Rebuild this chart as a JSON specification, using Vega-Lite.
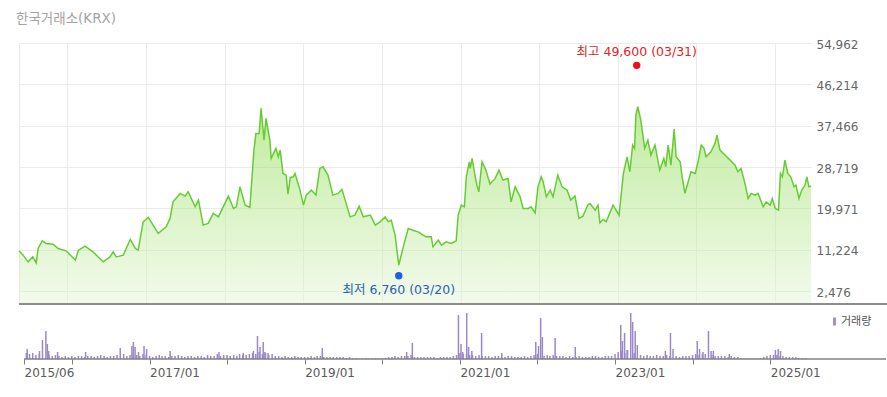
{
  "$schema": "https://vega.github.io/schema/vega-lite/v6.json",
  "background": "white",
  "padding": {"left": 16, "top": 11, "right": 0, "bottom": 0},
  "title": {"text": "한국거래소(KRX)", "anchor": "start", "fontSize": 13.5, "font": "DejaVu Sans, Noto Sans CJK KR", "fontWeight": "normal", "color": "#a3a3a3", "offset": 13},
  "config": {"view": {"stroke": null}, "font": "DejaVu Sans, Noto Sans CJK KR"},
  "spacing": 4,
  "resolve": {"scale": {"color": "independent"}, "legend": {"color": "independent"}},
  "datasets": {
    "price": [
      {"d": "2015-05-21", "v": 11000}, {"d": "2015-06-09", "v": 10060}, {"d": "2015-07-02", "v": 8640}, {"d": "2015-07-24", "v": 9700},
      {"d": "2015-08-09", "v": 8430}, {"d": "2015-08-18", "v": 11480}, {"d": "2015-09-06", "v": 13090}, {"d": "2015-09-24", "v": 12540},
      {"d": "2015-10-26", "v": 12390}, {"d": "2015-11-19", "v": 11480}, {"d": "2015-12-26", "v": 10970}, {"d": "2016-02-07", "v": 9000},
      {"d": "2016-02-21", "v": 11120}, {"d": "2016-03-23", "v": 11970}, {"d": "2016-04-29", "v": 10760}, {"d": "2016-06-15", "v": 8640},
      {"d": "2016-07-17", "v": 9700}, {"d": "2016-08-01", "v": 10760}, {"d": "2016-08-15", "v": 9700}, {"d": "2016-09-17", "v": 10060},
      {"d": "2016-10-19", "v": 13390}, {"d": "2016-11-12", "v": 11480}, {"d": "2016-11-25", "v": 11120}, {"d": "2016-12-18", "v": 17120},
      {"d": "2017-01-11", "v": 18050}, {"d": "2017-02-26", "v": 14660}, {"d": "2017-04-04", "v": 16060}, {"d": "2017-04-22", "v": 17840},
      {"d": "2017-05-06", "v": 21350}, {"d": "2017-06-08", "v": 23130}, {"d": "2017-07-01", "v": 22560}, {"d": "2017-07-15", "v": 23470},
      {"d": "2017-08-17", "v": 20290}, {"d": "2017-09-01", "v": 21710}, {"d": "2017-09-23", "v": 16420}, {"d": "2017-10-16", "v": 16780},
      {"d": "2017-11-09", "v": 18890}, {"d": "2017-12-03", "v": 18170}, {"d": "2017-12-25", "v": 20290}, {"d": "2018-01-18", "v": 22560},
      {"d": "2018-02-11", "v": 19950}, {"d": "2018-02-24", "v": 20290}, {"d": "2018-03-13", "v": 24530}, {"d": "2018-04-06", "v": 20650},
      {"d": "2018-04-28", "v": 20160}, {"d": "2018-05-17", "v": 32300}, {"d": "2018-05-26", "v": 35830}, {"d": "2018-06-10", "v": 35830},
      {"d": "2018-06-19", "v": 41130}, {"d": "2018-07-03", "v": 34420}, {"d": "2018-07-12", "v": 39010}, {"d": "2018-07-30", "v": 34420},
      {"d": "2018-08-05", "v": 30540}, {"d": "2018-08-27", "v": 32660}, {"d": "2018-09-07", "v": 30880}, {"d": "2018-09-16", "v": 32300},
      {"d": "2018-09-29", "v": 27360}, {"d": "2018-10-14", "v": 27000}, {"d": "2018-10-22", "v": 22980}, {"d": "2018-11-02", "v": 26500},
      {"d": "2018-11-16", "v": 26650}, {"d": "2018-11-24", "v": 27360}, {"d": "2018-12-17", "v": 23830}, {"d": "2019-01-02", "v": 20650},
      {"d": "2019-01-15", "v": 22770}, {"d": "2019-02-08", "v": 23830}, {"d": "2019-03-01", "v": 22770}, {"d": "2019-03-19", "v": 28420},
      {"d": "2019-04-03", "v": 28770}, {"d": "2019-04-26", "v": 27000}, {"d": "2019-05-19", "v": 22770}, {"d": "2019-06-12", "v": 23130},
      {"d": "2019-06-30", "v": 23980}, {"d": "2019-08-07", "v": 18170}, {"d": "2019-08-29", "v": 18530}, {"d": "2019-09-18", "v": 20440},
      {"d": "2019-10-07", "v": 18170}, {"d": "2019-11-09", "v": 18530}, {"d": "2019-12-02", "v": 16420}, {"d": "2019-12-24", "v": 17120},
      {"d": "2020-01-17", "v": 18170}, {"d": "2020-02-01", "v": 17120}, {"d": "2020-02-14", "v": 17470}, {"d": "2020-03-03", "v": 14300},
      {"d": "2020-03-20", "v": 7940}, {"d": "2020-04-10", "v": 11820}, {"d": "2020-05-03", "v": 15710}, {"d": "2020-05-25", "v": 15350},
      {"d": "2020-06-18", "v": 14990}, {"d": "2020-07-11", "v": 14300}, {"d": "2020-07-24", "v": 13940}, {"d": "2020-08-18", "v": 13940},
      {"d": "2020-08-26", "v": 11820}, {"d": "2020-09-20", "v": 13240}, {"d": "2020-10-04", "v": 12180}, {"d": "2020-10-26", "v": 12880},
      {"d": "2020-11-19", "v": 12540}, {"d": "2020-12-12", "v": 13090}, {"d": "2020-12-21", "v": 18530}, {"d": "2021-01-05", "v": 20650},
      {"d": "2021-01-19", "v": 20290}, {"d": "2021-01-28", "v": 26650}, {"d": "2021-02-11", "v": 29820}, {"d": "2021-02-15", "v": 28420},
      {"d": "2021-02-24", "v": 30540}, {"d": "2021-03-09", "v": 27000}, {"d": "2021-03-18", "v": 24890}, {"d": "2021-03-27", "v": 23470},
      {"d": "2021-04-11", "v": 29820}, {"d": "2021-04-29", "v": 28060}, {"d": "2021-05-18", "v": 25100}, {"d": "2021-06-11", "v": 26300},
      {"d": "2021-06-29", "v": 28060}, {"d": "2021-07-17", "v": 25950}, {"d": "2021-08-10", "v": 26300}, {"d": "2021-08-24", "v": 21350},
      {"d": "2021-09-12", "v": 24530}, {"d": "2021-10-05", "v": 22410}, {"d": "2021-10-19", "v": 19950}, {"d": "2021-11-12", "v": 19950},
      {"d": "2021-11-25", "v": 20290}, {"d": "2021-12-14", "v": 19020}, {"d": "2021-12-27", "v": 24530}, {"d": "2022-01-11", "v": 26650},
      {"d": "2022-01-20", "v": 25590}, {"d": "2022-02-04", "v": 22410}, {"d": "2022-02-22", "v": 23830}, {"d": "2022-03-07", "v": 22410},
      {"d": "2022-03-29", "v": 27000}, {"d": "2022-04-18", "v": 24530}, {"d": "2022-05-11", "v": 23830}, {"d": "2022-05-28", "v": 21710},
      {"d": "2022-06-17", "v": 22560}, {"d": "2022-07-06", "v": 17840}, {"d": "2022-07-24", "v": 18300}, {"d": "2022-08-15", "v": 20650},
      {"d": "2022-08-26", "v": 21010}, {"d": "2022-09-19", "v": 19590}, {"d": "2022-10-02", "v": 20650}, {"d": "2022-10-11", "v": 16900},
      {"d": "2022-10-26", "v": 17620}, {"d": "2022-11-09", "v": 17120}, {"d": "2022-12-11", "v": 20650}, {"d": "2023-01-08", "v": 18530},
      {"d": "2023-01-28", "v": 27360}, {"d": "2023-02-14", "v": 30880}, {"d": "2023-02-27", "v": 27710}, {"d": "2023-03-12", "v": 33360},
      {"d": "2023-03-21", "v": 32660}, {"d": "2023-03-27", "v": 39710}, {"d": "2023-04-05", "v": 41470}, {"d": "2023-04-19", "v": 38650},
      {"d": "2023-05-07", "v": 32660}, {"d": "2023-05-22", "v": 34420}, {"d": "2023-06-05", "v": 31240}, {"d": "2023-06-24", "v": 33360},
      {"d": "2023-07-16", "v": 28060}, {"d": "2023-08-04", "v": 30540}, {"d": "2023-08-13", "v": 28770}, {"d": "2023-08-24", "v": 33360},
      {"d": "2023-09-06", "v": 29120}, {"d": "2023-09-21", "v": 36750}, {"d": "2023-09-30", "v": 30880}, {"d": "2023-10-19", "v": 29820},
      {"d": "2023-10-28", "v": 26650}, {"d": "2023-11-10", "v": 23130}, {"d": "2023-11-25", "v": 25590}, {"d": "2023-12-08", "v": 27710},
      {"d": "2023-12-28", "v": 27360}, {"d": "2024-01-10", "v": 29820}, {"d": "2024-01-25", "v": 33360}, {"d": "2024-02-07", "v": 32660},
      {"d": "2024-02-16", "v": 30880}, {"d": "2024-03-10", "v": 31940}, {"d": "2024-03-29", "v": 33720}, {"d": "2024-04-07", "v": 35480},
      {"d": "2024-04-21", "v": 32300}, {"d": "2024-05-14", "v": 31240}, {"d": "2024-06-07", "v": 30180}, {"d": "2024-06-30", "v": 29120},
      {"d": "2024-07-13", "v": 27710}, {"d": "2024-07-28", "v": 28420}, {"d": "2024-08-15", "v": 25240}, {"d": "2024-08-30", "v": 22070},
      {"d": "2024-09-13", "v": 23130}, {"d": "2024-10-01", "v": 22770}, {"d": "2024-10-15", "v": 23130}, {"d": "2024-11-08", "v": 20290},
      {"d": "2024-11-22", "v": 21350}, {"d": "2024-12-10", "v": 20650}, {"d": "2024-12-20", "v": 22070}, {"d": "2025-01-03", "v": 19950},
      {"d": "2025-01-18", "v": 19590}, {"d": "2025-01-27", "v": 27360}, {"d": "2025-02-05", "v": 26650}, {"d": "2025-02-17", "v": 30180},
      {"d": "2025-03-02", "v": 27360}, {"d": "2025-03-16", "v": 26650}, {"d": "2025-03-31", "v": 24530}, {"d": "2025-04-09", "v": 24890},
      {"d": "2025-04-23", "v": 22070}, {"d": "2025-05-06", "v": 23830}, {"d": "2025-05-21", "v": 24890}, {"d": "2025-05-30", "v": 26650},
      {"d": "2025-06-08", "v": 24530}, {"d": "2025-06-18", "v": 24700}
    ],
    "vol": [
      {"d": "2015-06-01", "v": 6}, {"d": "2015-06-16", "v": 5}, {"d": "2015-07-01", "v": 6}, {"d": "2015-07-16", "v": 4}, {"d": "2015-08-01", "v": 5}, {"d": "2015-08-16", "v": 6}, {"d": "2015-09-01", "v": 5}, {"d": "2015-09-16", "v": 4}, {"d": "2015-10-01", "v": 3}, {"d": "2015-10-16", "v": 4}, {"d": "2015-11-01", "v": 3}, {"d": "2015-11-16", "v": 2}, {"d": "2015-12-01", "v": 3}, {"d": "2015-12-16", "v": 2},
      {"d": "2016-01-01", "v": 3}, {"d": "2016-01-16", "v": 2}, {"d": "2016-02-01", "v": 3}, {"d": "2016-02-16", "v": 3}, {"d": "2016-03-01", "v": 2}, {"d": "2016-03-16", "v": 3}, {"d": "2016-04-01", "v": 3}, {"d": "2016-04-16", "v": 2}, {"d": "2016-05-01", "v": 3}, {"d": "2016-05-16", "v": 4}, {"d": "2016-06-01", "v": 3}, {"d": "2016-06-16", "v": 2}, {"d": "2016-07-01", "v": 3}, {"d": "2016-07-16", "v": 3}, {"d": "2016-08-01", "v": 4}, {"d": "2016-08-16", "v": 3}, {"d": "2016-09-01", "v": 5}, {"d": "2016-09-16", "v": 3}, {"d": "2016-10-01", "v": 4}, {"d": "2016-10-16", "v": 5}, {"d": "2016-11-01", "v": 4}, {"d": "2016-11-16", "v": 3}, {"d": "2016-12-01", "v": 5}, {"d": "2016-12-16", "v": 4},
      {"d": "2017-01-01", "v": 3}, {"d": "2017-01-16", "v": 2}, {"d": "2017-02-01", "v": 3}, {"d": "2017-02-16", "v": 4}, {"d": "2017-03-01", "v": 3}, {"d": "2017-03-16", "v": 3}, {"d": "2017-04-01", "v": 2}, {"d": "2017-04-16", "v": 3}, {"d": "2017-05-01", "v": 3}, {"d": "2017-05-16", "v": 4}, {"d": "2017-06-01", "v": 3}, {"d": "2017-06-16", "v": 2}, {"d": "2017-07-01", "v": 3}, {"d": "2017-07-16", "v": 3}, {"d": "2017-08-01", "v": 2}, {"d": "2017-08-16", "v": 3}, {"d": "2017-09-01", "v": 3}, {"d": "2017-09-16", "v": 2}, {"d": "2017-10-01", "v": 4}, {"d": "2017-10-16", "v": 3}, {"d": "2017-11-01", "v": 3}, {"d": "2017-11-16", "v": 5}, {"d": "2017-12-01", "v": 3}, {"d": "2017-12-16", "v": 4},
      {"d": "2018-01-01", "v": 4}, {"d": "2018-01-16", "v": 3}, {"d": "2018-02-01", "v": 4}, {"d": "2018-02-16", "v": 3}, {"d": "2018-03-01", "v": 5}, {"d": "2018-03-16", "v": 4}, {"d": "2018-04-01", "v": 4}, {"d": "2018-04-16", "v": 5}, {"d": "2018-05-01", "v": 6}, {"d": "2018-05-16", "v": 5}, {"d": "2018-06-01", "v": 7}, {"d": "2018-06-16", "v": 5}, {"d": "2018-07-01", "v": 6}, {"d": "2018-07-16", "v": 4}, {"d": "2018-08-01", "v": 5}, {"d": "2018-08-16", "v": 3}, {"d": "2018-09-01", "v": 3}, {"d": "2018-09-16", "v": 2}, {"d": "2018-10-01", "v": 3}, {"d": "2018-10-16", "v": 2}, {"d": "2018-11-01", "v": 2}, {"d": "2018-11-16", "v": 3}, {"d": "2018-12-01", "v": 2}, {"d": "2018-12-16", "v": 2},
      {"d": "2019-01-01", "v": 2}, {"d": "2019-01-16", "v": 2}, {"d": "2019-02-01", "v": 3}, {"d": "2019-02-16", "v": 2}, {"d": "2019-03-01", "v": 3}, {"d": "2019-03-16", "v": 3}, {"d": "2019-04-01", "v": 2}, {"d": "2019-04-16", "v": 2}, {"d": "2019-05-01", "v": 2}, {"d": "2019-05-16", "v": 2}, {"d": "2019-06-01", "v": 2}, {"d": "2019-06-16", "v": 2}, {"d": "2019-07-01", "v": 2}, {"d": "2019-07-16", "v": 1}, {"d": "2019-08-01", "v": 2}, {"d": "2019-08-16", "v": 1}, {"d": "2019-09-01", "v": 1}, {"d": "2019-09-16", "v": 0.5}, {"d": "2019-10-01", "v": 0.5}, {"d": "2019-10-16", "v": 1}, {"d": "2019-11-01", "v": 0.5}, {"d": "2019-11-16", "v": 0.5}, {"d": "2019-12-01", "v": 1}, {"d": "2019-12-16", "v": 0.5},
      {"d": "2020-01-01", "v": 0.5}, {"d": "2020-01-16", "v": 1}, {"d": "2020-02-01", "v": 2}, {"d": "2020-02-16", "v": 2}, {"d": "2020-03-01", "v": 3}, {"d": "2020-03-16", "v": 2}, {"d": "2020-04-01", "v": 3}, {"d": "2020-04-16", "v": 3}, {"d": "2020-05-01", "v": 3}, {"d": "2020-05-16", "v": 4}, {"d": "2020-06-01", "v": 2}, {"d": "2020-06-16", "v": 2}, {"d": "2020-07-01", "v": 2}, {"d": "2020-07-16", "v": 2}, {"d": "2020-08-01", "v": 2}, {"d": "2020-08-16", "v": 2}, {"d": "2020-09-01", "v": 2}, {"d": "2020-09-16", "v": 1}, {"d": "2020-10-01", "v": 2}, {"d": "2020-10-16", "v": 2}, {"d": "2020-11-01", "v": 2}, {"d": "2020-11-16", "v": 2}, {"d": "2020-12-01", "v": 3}, {"d": "2020-12-16", "v": 4},
      {"d": "2021-01-01", "v": 6}, {"d": "2021-01-16", "v": 5}, {"d": "2021-02-01", "v": 5}, {"d": "2021-02-16", "v": 4}, {"d": "2021-03-01", "v": 4}, {"d": "2021-03-16", "v": 3}, {"d": "2021-04-01", "v": 4}, {"d": "2021-04-16", "v": 3}, {"d": "2021-05-01", "v": 3}, {"d": "2021-05-16", "v": 3}, {"d": "2021-06-01", "v": 2}, {"d": "2021-06-16", "v": 3}, {"d": "2021-07-01", "v": 3}, {"d": "2021-07-16", "v": 2}, {"d": "2021-08-01", "v": 2}, {"d": "2021-08-16", "v": 3}, {"d": "2021-09-01", "v": 3}, {"d": "2021-09-16", "v": 2}, {"d": "2021-10-01", "v": 2}, {"d": "2021-10-16", "v": 2}, {"d": "2021-11-01", "v": 3}, {"d": "2021-11-16", "v": 2}, {"d": "2021-12-01", "v": 3}, {"d": "2021-12-16", "v": 4},
      {"d": "2022-01-01", "v": 5}, {"d": "2022-01-16", "v": 4}, {"d": "2022-02-01", "v": 3}, {"d": "2022-02-16", "v": 4}, {"d": "2022-03-01", "v": 3}, {"d": "2022-03-16", "v": 4}, {"d": "2022-04-01", "v": 3}, {"d": "2022-04-16", "v": 3}, {"d": "2022-05-01", "v": 3}, {"d": "2022-05-16", "v": 2}, {"d": "2022-06-01", "v": 3}, {"d": "2022-06-16", "v": 2}, {"d": "2022-07-01", "v": 2}, {"d": "2022-07-16", "v": 3}, {"d": "2022-08-01", "v": 2}, {"d": "2022-08-16", "v": 2}, {"d": "2022-09-01", "v": 2}, {"d": "2022-09-16", "v": 3}, {"d": "2022-10-01", "v": 3}, {"d": "2022-10-16", "v": 2}, {"d": "2022-11-01", "v": 2}, {"d": "2022-11-16", "v": 3}, {"d": "2022-12-01", "v": 3}, {"d": "2022-12-16", "v": 3},
      {"d": "2023-01-01", "v": 5}, {"d": "2023-01-16", "v": 7}, {"d": "2023-02-01", "v": 8}, {"d": "2023-02-16", "v": 6}, {"d": "2023-03-01", "v": 9}, {"d": "2023-03-16", "v": 7}, {"d": "2023-04-01", "v": 6}, {"d": "2023-04-16", "v": 4}, {"d": "2023-05-01", "v": 4}, {"d": "2023-05-16", "v": 3}, {"d": "2023-06-01", "v": 4}, {"d": "2023-06-16", "v": 3}, {"d": "2023-07-01", "v": 3}, {"d": "2023-07-16", "v": 4}, {"d": "2023-08-01", "v": 3}, {"d": "2023-08-16", "v": 3}, {"d": "2023-09-01", "v": 4}, {"d": "2023-09-16", "v": 3}, {"d": "2023-10-01", "v": 3}, {"d": "2023-10-16", "v": 3}, {"d": "2023-11-01", "v": 2}, {"d": "2023-11-16", "v": 3}, {"d": "2023-12-01", "v": 3}, {"d": "2023-12-16", "v": 3},
      {"d": "2024-01-01", "v": 4}, {"d": "2024-01-16", "v": 5}, {"d": "2024-02-01", "v": 4}, {"d": "2024-02-16", "v": 5}, {"d": "2024-03-01", "v": 5}, {"d": "2024-03-16", "v": 4}, {"d": "2024-04-01", "v": 4}, {"d": "2024-04-16", "v": 3}, {"d": "2024-05-01", "v": 3}, {"d": "2024-05-16", "v": 3}, {"d": "2024-06-01", "v": 3}, {"d": "2024-06-16", "v": 2}, {"d": "2024-07-01", "v": 3}, {"d": "2024-07-16", "v": 2}, {"d": "2024-08-01", "v": 2}, {"d": "2024-08-16", "v": 1}, {"d": "2024-09-01", "v": 0.5}, {"d": "2024-09-16", "v": 0.5}, {"d": "2024-10-01", "v": 0.5}, {"d": "2024-10-16", "v": 0.5}, {"d": "2024-11-01", "v": 0.5}, {"d": "2024-11-16", "v": 1}, {"d": "2024-12-01", "v": 2}, {"d": "2024-12-16", "v": 3},
      {"d": "2025-01-01", "v": 4}, {"d": "2025-01-16", "v": 4}, {"d": "2025-02-01", "v": 4}, {"d": "2025-02-16", "v": 3}, {"d": "2025-03-01", "v": 3}, {"d": "2025-03-16", "v": 2}, {"d": "2025-04-01", "v": 2}, {"d": "2025-04-16", "v": 2}, {"d": "2025-05-01", "v": 2}, {"d": "2025-05-16", "v": 1}, {"d": "2025-06-01", "v": 1}, {"d": "2025-06-16", "v": 1},
      {"d": "2015-06-05", "v": 10}, {"d": "2015-08-02", "v": 8}, {"d": "2015-08-16", "v": 13}, {"d": "2015-09-01", "v": 23}, {"d": "2015-09-08", "v": 15}, {"d": "2015-09-14", "v": 8}, {"d": "2015-10-26", "v": 7}, {"d": "2016-03-06", "v": 7}, {"d": "2016-08-16", "v": 8}, {"d": "2016-10-10", "v": 13}, {"d": "2016-10-17", "v": 17}, {"d": "2016-10-25", "v": 12}, {"d": "2016-11-10", "v": 7}, {"d": "2016-12-06", "v": 13}, {"d": "2016-12-18", "v": 10}, {"d": "2017-04-08", "v": 8}, {"d": "2017-11-24", "v": 7}, {"d": "2018-03-18", "v": 6}, {"d": "2018-05-05", "v": 8}, {"d": "2018-05-24", "v": 23}, {"d": "2018-06-05", "v": 12}, {"d": "2018-06-20", "v": 17}, {"d": "2018-06-28", "v": 7}, {"d": "2018-07-13", "v": 6}, {"d": "2019-03-25", "v": 11}, {"d": "2020-04-25", "v": 7}, {"d": "2020-05-22", "v": 16}, {"d": "2020-12-25", "v": 44}, {"d": "2021-01-06", "v": 15}, {"d": "2021-01-14", "v": 7}, {"d": "2021-02-02", "v": 46}, {"d": "2021-02-11", "v": 12}, {"d": "2021-02-26", "v": 8}, {"d": "2021-04-13", "v": 26}, {"d": "2021-07-17", "v": 6}, {"d": "2021-12-24", "v": 17}, {"d": "2022-01-06", "v": 13}, {"d": "2022-01-16", "v": 37}, {"d": "2022-01-24", "v": 22}, {"d": "2022-03-25", "v": 21}, {"d": "2022-06-28", "v": 12}, {"d": "2023-01-28", "v": 34}, {"d": "2023-02-05", "v": 18}, {"d": "2023-02-15", "v": 26}, {"d": "2023-02-27", "v": 9}, {"d": "2023-03-16", "v": 39}, {"d": "2023-03-25", "v": 37}, {"d": "2023-04-06", "v": 28}, {"d": "2023-04-16", "v": 10}, {"d": "2023-08-26", "v": 8}, {"d": "2023-09-19", "v": 26}, {"d": "2023-10-01", "v": 7}, {"d": "2024-01-23", "v": 18}, {"d": "2024-02-03", "v": 10}, {"d": "2024-02-19", "v": 7}, {"d": "2024-03-16", "v": 24}, {"d": "2024-03-28", "v": 8}, {"d": "2024-04-08", "v": 8}, {"d": "2024-06-22", "v": 5}, {"d": "2025-01-25", "v": 9}, {"d": "2025-02-07", "v": 10}, {"d": "2025-02-18", "v": 8}
    ],
    "notes": [
      {"d": "2023-03-31", "v": 49600, "t": "최고 49,600 (03/31)", "k": "max"},
      {"d": "2020-03-20", "v": 6760, "t": "최저 6,760 (03/20)", "k": "min"}
    ]
  },
  "vconcat": [
    {
      "width": 792,
      "height": 261,
      "layer": [
        {
          "data": {"name": "price"},
          "mark": {"type": "area", "interpolate": "linear", "fill": {"gradient": "linear", "x1": 0, "y1": 0, "x2": 0, "y2": 1, "stops": [{"offset": 0, "color": "rgba(128,216,58,0.5)"}, {"offset": 1, "color": "rgba(226,245,212,0.45)"}]}},
          "encoding": {
            "x": {"field": "d", "type": "temporal",
              "scale": {"type": "utc", "domain": [{"year": 2015, "month": 5, "date": 21, "utc": true}, {"year": 2025, "month": 6, "date": 18, "utc": true}]},
              "axis": {"values": [{"year": 2015, "month": 5, "date": 21, "utc": true}, {"year": 2016, "month": 1, "date": 1, "utc": true}, {"year": 2017, "month": 1, "date": 1, "utc": true}, {"year": 2018, "month": 1, "date": 1, "utc": true}, {"year": 2019, "month": 1, "date": 1, "utc": true}, {"year": 2020, "month": 1, "date": 1, "utc": true}, {"year": 2021, "month": 1, "date": 1, "utc": true}, {"year": 2022, "month": 1, "date": 1, "utc": true}, {"year": 2023, "month": 1, "date": 1, "utc": true}, {"year": 2024, "month": 1, "date": 1, "utc": true}, {"year": 2025, "month": 1, "date": 1, "utc": true}],
                "labels": false, "ticks": false, "domain": false, "title": null, "grid": true, "gridColor": "#ebebeb", "minExtent": 0, "maxExtent": 0}
            },
            "y": {"field": "v", "type": "quantitative",
              "scale": {"domain": [-275, 54962], "nice": false, "zero": false},
              "axis": {"orient": "right", "values": [2476, 11224, 19971, 28719, 37466, 46214, 54962], "labelExpr": "format(datum.value, ',')", "ticks": false, "domain": false, "title": null, "grid": true, "gridColor": "#ebebeb", "labelPadding": 5, "labelFontSize": 12, "labelColor": "#666666", "labelFont": "DejaVu Sans", "labelAlign": "left", "labelOffset": 1}
            },
            "y2": {"datum": -275}
          }
        },
        {
          "data": {"name": "price"},
          "mark": {"type": "line", "color": "#66cc33", "strokeWidth": 1.5, "interpolate": "linear"},
          "encoding": {
            "x": {"field": "d", "type": "temporal"},
            "y": {"field": "v", "type": "quantitative"}
          }
        },
        {
          "data": {"values": [{"n": 1}]},
          "mark": {"type": "rule", "color": "#8c8c8c", "strokeWidth": 2},
          "encoding": {
            "x": {"datum": {"year": 2015, "month": 5, "date": 21, "utc": true}, "type": "temporal"},
            "x2": {"datum": {"year": 2026, "month": 6, "date": 30, "utc": true}},
            "y": {"datum": -275, "type": "quantitative"}
          }
        },
        {
          "data": {"name": "notes"},
          "transform": [{"filter": "datum.k == 'max'"}],
          "layer": [
            {"mark": {"type": "point", "filled": true, "size": 55, "color": "#ee1111", "opacity": 1, "yOffset": -3}},
            {"mark": {"type": "text", "color": "#e02424", "fontSize": 12.5, "dy": -16, "font": "DejaVu Sans, Noto Sans CJK KR"}, "encoding": {"text": {"field": "t"}}}
          ],
          "encoding": {
            "x": {"field": "d", "type": "temporal"},
            "y": {"field": "v", "type": "quantitative"}
          }
        },
        {
          "data": {"name": "notes"},
          "transform": [{"filter": "datum.k == 'min'"}],
          "layer": [
            {"mark": {"type": "point", "filled": true, "size": 55, "color": "#1d62d8", "opacity": 1, "yOffset": 5}},
            {"mark": {"type": "text", "color": "#2c5fb5", "fontSize": 12.5, "dy": 19, "font": "DejaVu Sans, Noto Sans CJK KR"}, "encoding": {"text": {"field": "t"}}}
          ],
          "encoding": {
            "x": {"field": "d", "type": "temporal"},
            "y": {"field": "v", "type": "quantitative"}
          }
        }
      ]
    },
    {
      "width": 792,
      "height": 50,
      "layer": [
        {
          "data": {"name": "vol"},
          "mark": {"type": "bar", "width": 1.5},
          "encoding": {
            "x": {"field": "d", "type": "temporal",
              "scale": {"type": "utc", "domain": [{"year": 2015, "month": 5, "date": 21, "utc": true}, {"year": 2025, "month": 6, "date": 18, "utc": true}]},
              "axis": {"values": [{"year": 2015, "month": 5, "date": 21, "utc": true}, {"year": 2016, "month": 1, "date": 1, "utc": true}, {"year": 2017, "month": 1, "date": 1, "utc": true}, {"year": 2018, "month": 1, "date": 1, "utc": true}, {"year": 2019, "month": 1, "date": 1, "utc": true}, {"year": 2020, "month": 1, "date": 1, "utc": true}, {"year": 2021, "month": 1, "date": 1, "utc": true}, {"year": 2022, "month": 1, "date": 1, "utc": true}, {"year": 2023, "month": 1, "date": 1, "utc": true}, {"year": 2024, "month": 1, "date": 1, "utc": true}, {"year": 2025, "month": 1, "date": 1, "utc": true}],
                "labelExpr": "datum.value < utc(2016, 0, 1) ? '2015/06' : (utcyear(datum.value) % 2 == 1 ? utcFormat(datum.value, '%Y/%m') : '')",
                "grid": false, "domain": false, "ticks": true, "tickColor": "#808080", "tickSize": 5, "labelAlign": "left", "labelPadding": 3, "labelFontSize": 12, "labelColor": "#5a5a5a", "labelFont": "DejaVu Sans", "title": null, "labelOverlap": false}
            },
            "y": {"field": "v", "type": "quantitative", "scale": {"domain": [0, 50], "nice": false}, "axis": null},
            "color": {"datum": "거래량", "type": "nominal", "scale": {"range": ["#9b88c9"]},
              "legend": {"title": null, "orient": "right", "offset": 11, "padding": 7, "symbolType": "M-0.35,-1L0.35,-1L0.35,1L-0.35,1Z", "symbolSize": 64, "symbolStrokeWidth": 0, "labelFontSize": 11, "labelColor": "#555555", "labelOffset": 1, "labelFont": "Noto Sans CJK KR"}}
          }
        },
        {
          "data": {"values": [{"n": 1}]},
          "mark": {"type": "rule", "color": "#808080", "strokeWidth": 1.5},
          "encoding": {
            "x": {"datum": {"year": 2015, "month": 5, "date": 21, "utc": true}, "type": "temporal"},
            "x2": {"datum": {"year": 2026, "month": 6, "date": 30, "utc": true}},
            "y": {"datum": 0, "type": "quantitative"}
          }
        }
      ]
    }
  ]
}
